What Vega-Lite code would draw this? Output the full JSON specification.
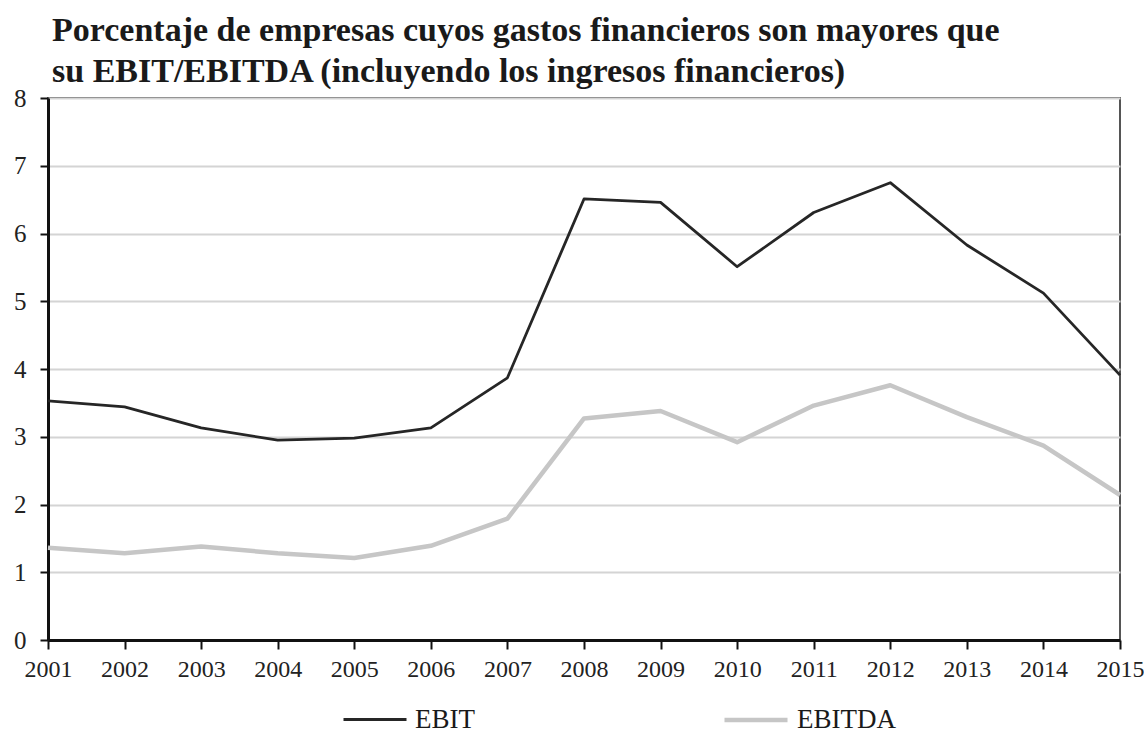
{
  "$schema": "https://vega.github.io/schema/vega-lite/v6.json",
  "autosize": {"type": "none"},
  "width": 1072,
  "height": 542,
  "padding": {"left": 48, "top": 98, "right": 24, "bottom": 104},
  "background": "white",
  "title": {
    "text": ["Porcentaje de empresas cuyos gastos financieros son mayores que", "su EBIT/EBITDA (incluyendo los ingresos financieros)"],
    "anchor": "start",
    "frame": "group",
    "dx": 4,
    "offset": -3,
    "font": "Liberation Serif",
    "fontSize": 34,
    "fontWeight": "bold",
    "color": "#1a1a1a",
    "lineHeight": 41
  },
  "config": {
    "view": {"stroke": "#555555", "strokeWidth": 2},
    "font": "Liberation Serif",
    "axis": {
      "domainColor": "#111111",
      "domainWidth": 3,
      "tickColor": "#111111",
      "tickWidth": 2,
      "labelFont": "Liberation Serif",
      "labelColor": "#222222",
      "title": null
    }
  },
  "data": {
    "values": [
      {"year": 2001, "series": "EBIT", "value": 3.53},
      {"year": 2002, "series": "EBIT", "value": 3.44},
      {"year": 2003, "series": "EBIT", "value": 3.13},
      {"year": 2004, "series": "EBIT", "value": 2.95},
      {"year": 2005, "series": "EBIT", "value": 2.98},
      {"year": 2006, "series": "EBIT", "value": 3.13},
      {"year": 2007, "series": "EBIT", "value": 3.87},
      {"year": 2008, "series": "EBIT", "value": 6.51},
      {"year": 2009, "series": "EBIT", "value": 6.46},
      {"year": 2010, "series": "EBIT", "value": 5.51},
      {"year": 2011, "series": "EBIT", "value": 6.31},
      {"year": 2012, "series": "EBIT", "value": 6.75},
      {"year": 2013, "series": "EBIT", "value": 5.83},
      {"year": 2014, "series": "EBIT", "value": 5.12},
      {"year": 2015, "series": "EBIT", "value": 3.91},
      {"year": 2001, "series": "EBITDA", "value": 1.36},
      {"year": 2002, "series": "EBITDA", "value": 1.28},
      {"year": 2003, "series": "EBITDA", "value": 1.38},
      {"year": 2004, "series": "EBITDA", "value": 1.28},
      {"year": 2005, "series": "EBITDA", "value": 1.21},
      {"year": 2006, "series": "EBITDA", "value": 1.39},
      {"year": 2007, "series": "EBITDA", "value": 1.79},
      {"year": 2008, "series": "EBITDA", "value": 3.27},
      {"year": 2009, "series": "EBITDA", "value": 3.38},
      {"year": 2010, "series": "EBITDA", "value": 2.92},
      {"year": 2011, "series": "EBITDA", "value": 3.46},
      {"year": 2012, "series": "EBITDA", "value": 3.76},
      {"year": 2013, "series": "EBITDA", "value": 3.29},
      {"year": 2014, "series": "EBITDA", "value": 2.87},
      {"year": 2015, "series": "EBITDA", "value": 2.14}
    ]
  },
  "mark": {"type": "line", "strokeJoin": "round"},
  "encoding": {
    "x": {
      "field": "year",
      "type": "quantitative",
      "scale": {"domain": [2001, 2015], "nice": false, "zero": false},
      "axis": {
        "values": [2001, 2002, 2003, 2004, 2005, 2006, 2007, 2008, 2009, 2010, 2011, 2012, 2013, 2014, 2015],
        "format": "d",
        "grid": false,
        "tickSize": 9,
        "labelPadding": 8,
        "labelFontSize": 24,
        "labelFlush": false,
        "labelOverlap": false
      }
    },
    "y": {
      "field": "value",
      "type": "quantitative",
      "scale": {"domain": [0, 8], "nice": false},
      "axis": {
        "values": [0, 1, 2, 3, 4, 5, 6, 7, 8],
        "grid": true,
        "gridColor": "#d4d4d4",
        "gridWidth": 2,
        "tickSize": 8,
        "labelPadding": 14,
        "labelFontSize": 25
      }
    },
    "color": {
      "field": "series",
      "type": "nominal",
      "scale": {"domain": ["EBIT", "EBITDA"], "range": ["#262626", "#c6c6c6"]},
      "legend": {
        "title": null,
        "orient": "none",
        "direction": "horizontal",
        "legendX": 294,
        "legendY": 588,
        "padding": 0,
        "symbolType": "stroke",
        "symbolSize": 3969,
        "symbolStrokeWidth": 4.5,
        "labelFont": "Liberation Serif",
        "labelFontSize": 27,
        "labelColor": "#1a1a1a",
        "labelOffset": 7,
        "columnPadding": 240
      }
    },
    "strokeWidth": {
      "field": "series",
      "type": "nominal",
      "scale": {"domain": ["EBIT", "EBITDA"], "range": [2.8, 4.5]},
      "legend": null
    }
  }
}
